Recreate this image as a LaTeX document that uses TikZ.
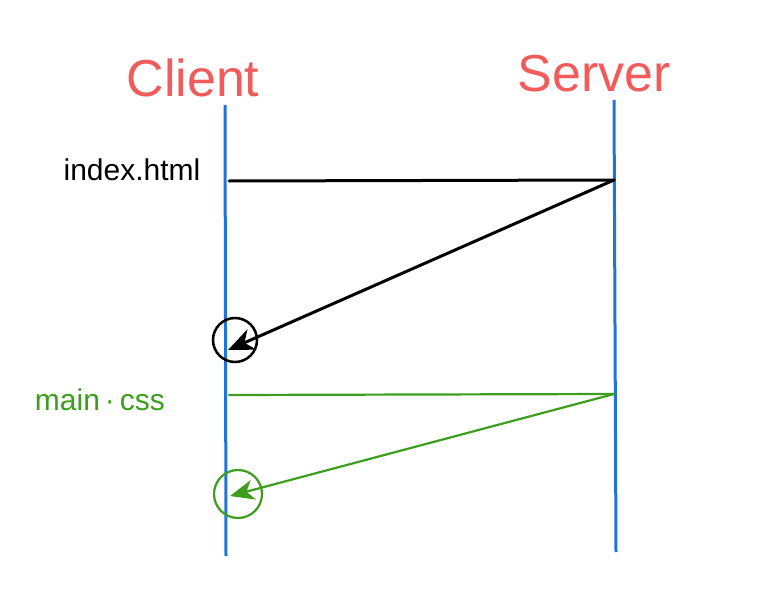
\documentclass[tikz,border=0pt]{standalone}
\usepackage{fontspec}
\setmainfont{Liberation Sans}
\usetikzlibrary{arrows.meta}
\definecolor{lifeblue}{HTML}{1E74DB}
\definecolor{titlered}{HTML}{F25B5B}
\definecolor{cssgreen}{HTML}{3C9E1C}
\tikzset{
  lifeline/.style={draw=lifeblue, line width=3pt},
  title/.style={text=titlered, font=\fontsize{52}{56}\selectfont, inner sep=0pt},
  msgblack/.style={draw=black, line width=3pt, line cap=round},
  msggreen/.style={draw=cssgreen, line width=2.2pt, line cap=round},
  lbl/.style={font=\fontsize{30}{34}\selectfont, inner sep=0pt},
}
\begin{document}
\begin{tikzpicture}[x=1pt,y=-1pt]
\useasboundingbox (0,0) rectangle (782,610);
% titles
\node[title] (client) at (193,78) {Client};
\node[title] (server) at (594,74) {Server};
% lifelines
\coordinate (ctop) at (225,105);
\coordinate (cbot) at (226,556);
\coordinate (stop) at (614,100);
\coordinate (sbot) at (616,552);
\draw[lifeline] (ctop) -- (cbot);
\draw[lifeline] (stop) -- (sbot);
% index.html exchange
\coordinate (h1) at (229,181);
\coordinate (h2) at (614,180);
\coordinate (h3) at (228,350);
\node[lbl] (idx) at (132,170) {index.html};
\draw[msgblack] (h1) -- (h2);
\draw[msgblack, -{Stealth[length=26pt,width=22pt,inset=8pt]}] (h2) -- (h3);
\node[draw=black, line width=2.5pt, circle, minimum size=44pt, inner sep=0pt] (hc) at (235,340) {};
% main.css exchange
\coordinate (c1) at (229,395);
\coordinate (c2) at (614,394);
\coordinate (c3) at (230,496);
\node[lbl, text=cssgreen] (css) at (100,400) {main\,·\,css};
\draw[msggreen] (c1) -- (c2);
\draw[msggreen, -{Stealth[length=24pt,width=20pt,inset=7pt]}] (c2) -- (c3);
\node[draw=cssgreen, line width=2.2pt, circle, minimum size=48pt, inner sep=0pt] (cc) at (238,494) {};
\end{tikzpicture}
\end{document}
